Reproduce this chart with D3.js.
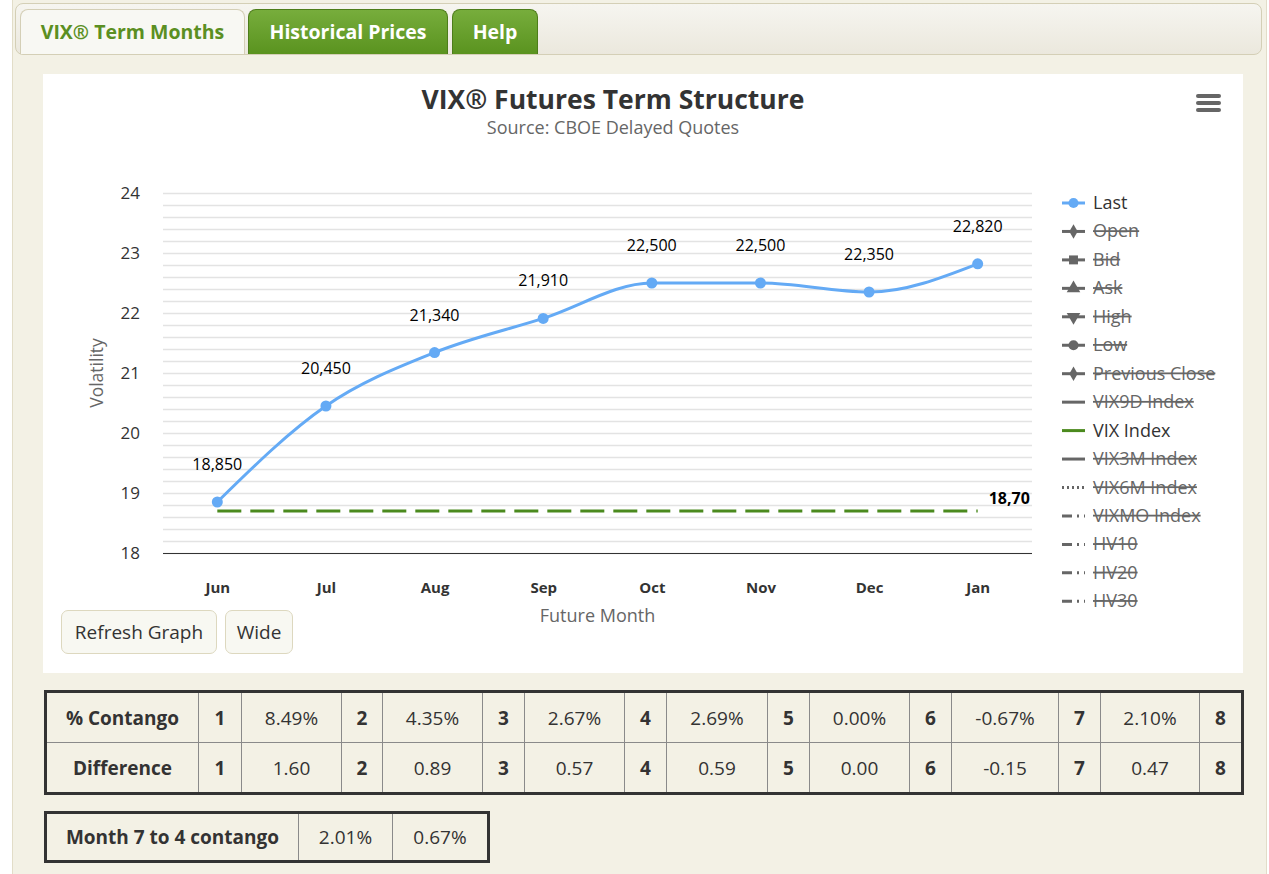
<!DOCTYPE html>
<html>
<head>
<meta charset="utf-8">
<script src="https://cdn.jsdelivr.net/npm/d3@7"></script>
<style>
	body { margin: 0; background: #fff; font-family: 'Open Sans', sans-serif; }
	#page { position: absolute; left: 12px; top: 0; width: 1253px; height: 900px; background: #f3f1e5; border-left: 1px solid #e2ddc8; border-right: 1px solid #e2ddc8; }
	#tabbar { position: absolute; left: 15px; top: 3px; width: 1245px; height: 50px; border: 1px solid #d4cfb6; border-radius: 8px; background: linear-gradient(#f6f5f0, #ebe8dd); }
	.tab { position: absolute; top: 9px; height: 45px; box-sizing: border-box; border-radius: 8px 8px 0 0; font-weight: bold; font-size: 19.5px; text-align: center; line-height: 44px; }
	.tab.active { background: #f8f8f3; border: 1px solid #d4cfb6; border-bottom: none; color: #5b8f22; }
	.tab.green { background: linear-gradient(#77ad3c, #5a931f); border: 1px solid #4d7d1a; border-bottom: none; color: #fff; }
	#chartbox { position: absolute; left: 43px; top: 74px; width: 1200px; height: 599px; background: #fff; }
	.btn { position: absolute; top: 610px; height: 44px; box-sizing: border-box; border: 1px solid #ddd8bf; border-radius: 7px; background: #f8f8f2; font-size: 19px; color: #333; line-height: 42px; text-align: center; }
	table { position: absolute; border-collapse: collapse; table-layout: fixed; border: 3px solid #333; font-size: 19px; color: #333; }
	td { border: 1px solid #8a8a8a; text-align: center; padding: 0; }
	td.hd { font-weight: bold; }
</style>
</head>
<body>
<div id="page"></div>
<div id="tabbar"></div>
<div class="tab active" style="left:20px;width:225px;">VIX® Term Months</div>
<div class="tab green" style="left:248px;width:200px;">Historical Prices</div>
<div class="tab green" style="left:452px;width:86px;">Help</div>
<div id="chartbox"><svg id="d-svg" width="1200" height="599"></svg></div>
<div class="btn" style="left:61px;width:156px;">Refresh Graph</div>
<div class="btn" style="left:225px;width:68px;">Wide</div>
<table id="t-contango" style="left:44px;top:690px;width:1199px;"></table>
<table id="t-month" style="left:44px;top:811px;width:444px;"></table>
<script>
// chart data
var months = ['Jun', 'Jul', 'Aug', 'Sep', 'Oct', 'Nov', 'Dec', 'Jan'];
var lastValues = [18.85, 20.45, 21.34, 21.91, 22.50, 22.50, 22.35, 22.82];
var vixIndex = 18.70;
var yTicks = [18, 19, 20, 21, 22, 23, 24];

// legend entries
var legendNames = ['Last', 'Open', 'Bid', 'Ask', 'High', 'Low', 'Previous Close', 'VIX9D Index', 'VIX Index', 'VIX3M Index', 'VIX6M Index', 'VIXMO Index', 'HV10', 'HV20', 'HV30'];
var legendSymbols = ['circle', 'diamond', 'square', 'triangle', 'triangle-down', 'circle', 'diamond', null, null, null, null, null, null, null, null];
var legendDashes = ['', '', '', '', '', '', '', '', '', '', '2,3', '10,5,2,5', '10,5,2,5', '10,5,2,5', '10,5,2,5'];
var legendVisible = [true, false, false, false, false, false, false, false, true, false, false, false, false, false, false];

// tables
var contangoPct = ['8.49%', '4.35%', '2.67%', '2.69%', '0.00%', '-0.67%', '2.10%'];
var differences = ['1.60', '0.89', '0.57', '0.59', '0.00', '-0.15', '0.47'];
var month7to4 = ['2.01%', '0.67%'];

var blue = '#64aaf5';
var green = '#4b8a1e';

var svg = d3.select('#d-svg');

// plot area (top is taken by window.top, so use other names)
var plotLeft = 120, plotRight = 989, plotTop = 119, plotBottom = 479;

var xscale = d3.scalePoint()
	.domain(months)
	.range([plotLeft, plotRight])
	.padding(0.5);

var yscale = d3.scaleLinear()
	.domain([18, 24])
	.range([plotBottom, plotTop]);

var commaLocale = d3.formatLocale({decimal: ',', thousands: '.', grouping: [3], currency: ['', '']});
var fmt3 = commaLocale.format('.3f');
var fmt2 = commaLocale.format('.2f');

// title
svg.append('text')
	.attr('x', 570)
	.attr('y', 35)
	.attr('text-anchor', 'middle')
	.attr('font-size', 26.5)
	.attr('font-weight', 'bold')
	.attr('fill', '#333')
	.text('VIX® Futures Term Structure');

svg.append('text')
	.attr('x', 570)
	.attr('y', 60)
	.attr('text-anchor', 'middle')
	.attr('font-size', 18)
	.attr('fill', '#666')
	.text('Source: CBOE Delayed Quotes');

// menu icon
[0, 1, 2].forEach(function(i) {
	svg.append('line')
		.attr('x1', 1155)
		.attr('x2', 1176)
		.attr('y1', 22 + i * 7)
		.attr('y2', 22 + i * 7)
		.attr('stroke', '#666')
		.attr('stroke-width', 4)
		.attr('stroke-linecap', 'round');
});

// grid every 0.2
var grid = d3.axisLeft()
	.scale(yscale)
	.ticks(30)
	.tickSize(-(plotRight - plotLeft))
	.tickFormat('');

svg.append('g')
	.attr('class', 'grid')
	.attr('transform', 'translate(' + plotLeft + ',0)')
	.call(grid)
	.call(function(g) { g.select('.domain').remove(); })
	.selectAll('line')
	.attr('stroke', '#e3e3e3')
	.attr('stroke-width', 1.5);

var yaxis = d3.axisLeft()
	.scale(yscale)
	.tickValues(yTicks)
	.tickFormat(d3.format('d'))
	.tickSize(0)
	.tickPadding(0);

svg.append('g')
	.attr('id', 'y-axis')
	.attr('transform', 'translate(97,0)')
	.call(yaxis)
	.call(function(g) { g.select('.domain').remove(); })
	.selectAll('text')
	.attr('font-family', 'Open Sans')
	.attr('font-size', 17)
	.attr('fill', '#333');

var xaxis = d3.axisBottom()
	.scale(xscale)
	.tickSize(0)
	.tickSizeOuter(0)
	.tickPadding(29);

var xg = svg.append('g')
	.attr('id', 'x-axis')
	.attr('transform', 'translate(0,' + plotBottom + ')')
	.call(xaxis);

xg.select('.domain')
	.attr('stroke', '#333')
	.attr('d', 'M' + plotLeft + ',0.5H' + plotRight);

xg.selectAll('text')
	.attr('font-family', 'Open Sans')
	.attr('font-size', 15)
	.attr('font-weight', 'bold')
	.attr('fill', '#333');

// axis titles
svg.append('text')
	.attr('transform', 'translate(60,' + ((plotTop + plotBottom) / 2) + ') rotate(-90)')
	.attr('text-anchor', 'middle')
	.attr('font-size', 17.5)
	.attr('fill', '#666')
	.text('Volatility');

svg.append('text')
	.attr('x', (plotLeft + plotRight) / 2)
	.attr('y', 548)
	.attr('text-anchor', 'middle')
	.attr('font-size', 18)
	.attr('fill', '#666')
	.text('Future Month');

// VIX index line
svg.append('line')
	.attr('x1', xscale(months[0]))
	.attr('x2', xscale(months[months.length - 1]))
	.attr('y1', yscale(vixIndex))
	.attr('y2', yscale(vixIndex))
	.attr('stroke', green)
	.attr('stroke-width', 3)
	.attr('stroke-dasharray', '24,9');

svg.append('text')
	.attr('x', xscale(months[months.length - 1]) + 11)
	.attr('y', yscale(vixIndex) - 7)
	.attr('font-size', 16)
	.attr('font-weight', 'bold')
	.attr('fill', '#000')
	.text(fmt2(vixIndex));

// Last series
var coords = months.map(function(m, i) { return [m, lastValues[i]]; });

var line = d3.line()
	.x(function(d) { return xscale(d[0]); })
	.y(function(d) { return yscale(d[1]); })
	.curve(d3.curveMonotoneX);

svg.append('path')
	.datum(coords)
	.attr('d', line)
	.attr('fill', 'none')
	.attr('stroke', blue)
	.attr('stroke-width', 3);

svg.selectAll('.pt')
	.data(coords)
	.enter()
	.append('circle')
	.attr('class', 'pt')
	.attr('cx', function(d) { return xscale(d[0]); })
	.attr('cy', function(d) { return yscale(d[1]); })
	.attr('r', 5.5)
	.attr('fill', blue);

svg.selectAll('.lbl')
	.data(coords)
	.enter()
	.append('text')
	.attr('class', 'lbl')
	.attr('x', function(d) { return xscale(d[0]); })
	.attr('y', function(d) { return yscale(d[1]) - 32; })
	.attr('text-anchor', 'middle')
	.attr('font-size', 16)
	.attr('fill', '#000')
	.text(function(d) { return fmt3(d[1]); });

// legend
var symbolTypes = {
	'circle': d3.symbolCircle,
	'diamond': d3.symbolDiamond,
	'square': d3.symbolSquare,
	'triangle': d3.symbolTriangle,
	'triangle-down': d3.symbolTriangle
};

var legend = svg.append('g')
	.attr('transform', 'translate(1019,129)');

legendNames.forEach(function(name, i) {
	var g = legend.append('g')
		.attr('transform', 'translate(0,' + (i * 28.45) + ')');
	var col = '#666';
	if (name == 'Last') col = blue;
	if (name == 'VIX Index') col = green;
	g.append('line')
		.attr('x1', 0)
		.attr('x2', 23)
		.attr('stroke', col)
		.attr('stroke-width', 3)
		.attr('stroke-dasharray', legendDashes[i]);
	var s = legendSymbols[i];
	if (s) {
		g.append('path')
			.attr('d', d3.symbol().type(symbolTypes[s]).size(s == 'diamond' ? 60 : 80)())
			.attr('transform', 'translate(11.5,0)' + (s == 'triangle-down' ? ' rotate(180)' : ''))
			.attr('fill', col);
	}
	g.append('text')
		.attr('x', 31)
		.attr('y', 6)
		.attr('font-size', 18)
		.attr('fill', legendVisible[i] ? '#333' : '#666')
		.attr('text-decoration', legendVisible[i] ? null : 'line-through')
		.text(name);
});

// tables
var row1 = [{t: '% Contango', hd: true}];
var row2 = [{t: 'Difference', hd: true}];
contangoPct.forEach(function(v, i) {
	row1.push({t: i + 1, hd: true}, {t: v});
	row2.push({t: i + 1, hd: true}, {t: differences[i]});
});
row1.push({t: 8, hd: true});
row2.push({t: 8, hd: true});

var colWidths = [153, 43, 100, 41, 100, 42, 100, 42, 101, 42, 100, 42, 107, 42, 99, 43];

var t1 = d3.select('#t-contango');
t1.append('colgroup')
	.selectAll('col')
	.data(colWidths)
	.enter()
	.append('col')
	.style('width', function(d) { return d + 'px'; });

t1.selectAll('tr')
	.data([row1, row2])
	.enter()
	.append('tr')
	.style('height', '51px')
	.selectAll('td')
	.data(function(d) { return d; })
	.enter()
	.append('td')
	.attr('class', function(d) { return d.hd ? 'hd' : null; })
	.text(function(d) { return d.t; });

var t2 = d3.select('#t-month');
t2.append('colgroup')
	.selectAll('col')
	.data([253, 94, 96])
	.enter()
	.append('col')
	.style('width', function(d) { return d + 'px'; });

t2.append('tr')
	.style('height', '49px')
	.selectAll('td')
	.data([{t: 'Month 7 to 4 contango', hd: true}, {t: month7to4[0]}, {t: month7to4[1]}])
	.enter()
	.append('td')
	.attr('class', function(d) { return d.hd ? 'hd' : null; })
	.text(function(d) { return d.t; });
</script>
</body>
</html>
